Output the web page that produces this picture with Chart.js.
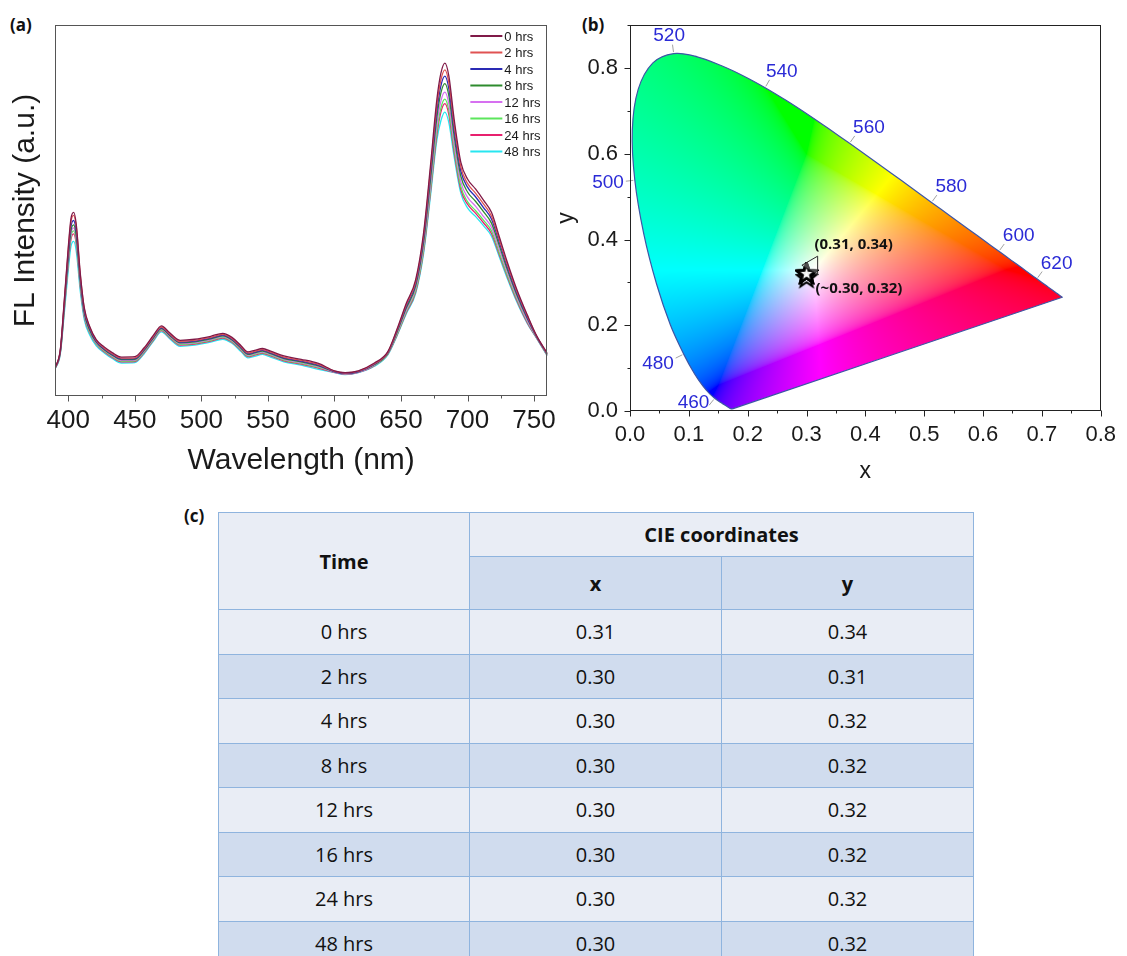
<!DOCTYPE html>
<html lang="en">
<head>
<meta charset="utf-8">
<title>FL spectra and CIE coordinates</title>
<script src="https://cdn.jsdelivr.net/npm/chart.js@4.4.1/dist/chart.umd.min.js"></script>
<style>
  html, body { margin: 0; padding: 0; background: #fff; }
  body { width: 1127px; height: 956px; position: relative; overflow: hidden; font-family: "Open Sans", sans-serif; }
  .tag { position: absolute; font-weight: bold; font-size: 17px; line-height: 17px; color: #111; }
  canvas { position: absolute; }
  #spectra { left: 0; top: 0; width: 565px; height: 480px; }
  #cie { left: 548px; top: 0; width: 579px; height: 492px; }
  #cieTable { position: absolute; left: 218px; top: 512px; width: 755px; border-collapse: collapse; table-layout: fixed;
              font-family: "Open Sans", sans-serif; font-size: 20px; color: #111; }
  #cieTable th, #cieTable td { border: 1.5px solid #8fb4de; text-align: center; padding: 0; }
  #cieTable th { font-weight: bold; }
  #cieTable .light { background: #e9edf5; }
  #cieTable .dark { background: #d0dcee; }
  #cieTable tbody td { height: 43.5px; }
</style>
</head>
<body>
<div class="tag" style="left:10px;top:16px">(a)</div>
<div class="tag" style="left:582px;top:16px">(b)</div>
<div class="tag" style="left:184px;top:507px">(c)</div>

<canvas id="spectra" width="565" height="480"></canvas>
<canvas id="cie" width="579" height="492"></canvas>

<table id="cieTable">
  <colgroup><col style="width:251px"><col style="width:252px"><col style="width:252px"></colgroup>
  <thead>
    <tr style="height:44px"><th class="light" rowspan="2">Time</th><th class="light" colspan="2">CIE coordinates</th></tr>
    <tr style="height:53px"><th class="dark">x</th><th class="dark">y</th></tr>
  </thead>
  <tbody></tbody>
</table>

<script>
// sample times
var timeLabels = ['0 hrs', '2 hrs', '4 hrs', '8 hrs', '12 hrs', '16 hrs', '24 hrs', '48 hrs'];
var seriesColors = ['#801a48', '#e05252', '#2a2ab4', '#2e8b2e', '#d670f0', '#5ce65c', '#e8206e', '#28e6f0'];

// emission spectra, wavelength in nm
var wavelengths = [390, 394, 397, 400, 402, 404, 406, 409, 412, 416, 421, 427, 433, 440, 450, 457, 464, 470, 476, 484,
                   495, 507, 516, 523, 530, 535, 540, 546, 552, 562, 575, 588, 600, 608, 618, 630, 640, 647, 654, 661,
                   667, 672, 677, 680, 683, 686, 690, 695, 700, 706, 712, 718, 724, 730, 737, 745, 752, 760];
var hrs0  = [75,125,259,402,478,495,462,331,238,188,152, 132,117,105,106,130,164,189,171,150,153,161,169,158,135,119,123,128,121,108,99,88, 68,63,68,89,119, 180,250,313,440,615,800,870,897,862,745,630,585,558,528,495,428,360,288,218, 162,115];
var hrs2  = [75,124,255,396,470,487,455,326,235,186,150, 129,114,102,103,127,161,186,168,147,150,158,166,155,132,116,120,125,118,105,96,85, 67,62,67,87,117, 177,246,307,432,603,784,852,879,844,730,617,573,547,518,485,420,353,283,215, 161,114];
var hrs4  = [74,122,249,385,457,473,442,317,229,182,147, 127,112,100,101,125,159,184,166,145,148,156,164,153,130,114,118,123,116,103,94,83, 66,61,66,86,116, 175,242,302,424,592,769,836,862,828,716,606,563,537,508,477,413,347,278,211, 160,113];
var hrs8  = [74,120,243,375,445,461,430,310,224,178,145, 125,110,98,99,123,157,182,164,143,146,154,162,151,128,112,116,121,114,101,92,81, 66,61,66,85,115, 172,237,296,415,578,751,817,842,809,700,592,550,525,497,466,404,340,273,208, 159,112];
var hrs12 = [74,119,240,369,437,453,423,305,221,176,143, 123,108,96,97,121,155,180,162,141,144,152,160,149,126,110,114,119,112,99,90,79, 65,60,65,84,114, 169,232,290,405,563,731,795,819,787,681,577,536,512,484,455,394,332,267,203, 158,111];
var hrs16 = [73,118,236,363,430,445,416,300,218,173,141, 121,106,94,95,119,153,178,160,139,142,150,158,147,124,108,112,117,110,97,88,77, 65,60,65,83,113, 166,228,284,396,551,714,776,800,769,666,564,524,500,474,445,385,325,262,200, 157,110];
var hrs24 = [73,116,233,357,422,437,409,295,214,171,140, 119,104,92,93,117,151,176,158,137,140,148,156,145,122,106,110,115,108,95,86,75, 64,59,64,82,112, 164,225,280,391,543,704,765,788,758,656,556,517,493,467,438,380,321,258,197, 156,109];
var hrs48 = [72,113,223,340,403,417,390,282,206,165,135, 116,101,89,90,114,148,173,155,134,137,145,153,142,119,103,107,112,105,92,83,72, 63,58,63,80,110, 162,222,276,384,533,690,742,765,736,644,546,507,484,459,431,374,316,254,195, 155,108];
var spectra = [hrs0, hrs2, hrs4, hrs8, hrs12, hrs16, hrs24, hrs48];

// CIE 1931 spectral locus
var locusNm = [380,385,390,395,400,405,410,415,420,425,430,435,440,445,450,455,460,465,470,475,480,485,490,495,500,505,510,515,520,525,
               530,535,540,545,550,555,560,565,570,575,580,585,590,595,600,605,610,615,620,625,630,635,640,645,650,655,660,665,670,675,
               680,685,690,695,700];
var locusX = [0.1741,0.1740,0.1738,0.1736,0.1733,0.1730,0.1726,0.1721,0.1714,0.1703,0.1689,0.1669,0.1644,0.1611,0.1566,0.1510,0.1440,0.1355,0.1241,0.1096,
              0.0913,0.0687,0.0454,0.0235,0.0082,0.0039,0.0139,0.0389,0.0743,0.1142,0.1547,0.1929,0.2296,0.2658,0.3016,0.3373,0.3731,0.4087,0.4441,0.4788,
              0.5125,0.5448,0.5752,0.6029,0.6270,0.6482,0.6658,0.6801,0.6915,0.7006,0.7079,0.7140,0.7190,0.7230,0.7260,0.7283,0.7300,0.7311,0.7320,0.7327,
              0.7334,0.7340,0.7344,0.7346,0.7347];
var locusY = [0.0050,0.0050,0.0049,0.0049,0.0048,0.0048,0.0048,0.0048,0.0051,0.0058,0.0069,0.0086,0.0109,0.0138,0.0177,0.0227,0.0297,0.0399,0.0578,0.0868,
              0.1327,0.2007,0.2950,0.4127,0.5384,0.6548,0.7502,0.8120,0.8338,0.8262,0.8059,0.7816,0.7543,0.7243,0.6923,0.6589,0.6245,0.5896,0.5547,0.5202,
              0.4866,0.4544,0.4242,0.3965,0.3725,0.3514,0.3340,0.3197,0.3083,0.2993,0.2920,0.2859,0.2809,0.2770,0.2740,0.2717,0.2700,0.2689,0.2680,0.2673,
              0.2666,0.2660,0.2656,0.2654,0.2653];
var labelNm = [460, 480, 500, 520, 540, 560, 580, 600, 620];

// measured colour coordinates
var cieX = [0.31, 0.30, 0.30, 0.30, 0.30, 0.30, 0.30, 0.30];
var cieY = [0.34, 0.31, 0.32, 0.32, 0.32, 0.32, 0.32, 0.32];

var ARIAL = '"Liberation Sans", Arial, sans-serif';
Chart.defaults.color = '#1a1a1a';

// box + outward ticks (major longer than minor)
var frameTicks = {
  id: 'frameTicks',
  afterDraw: function (chart, args, opts) {
    var ctx = chart.ctx, a = chart.chartArea;
    var L = Math.round(a.left) + 0.5, T = Math.round(a.top) + 0.5, R = Math.round(a.right) - 0.5, B = Math.round(a.bottom) - 0.5;
    ctx.save();
    ctx.strokeStyle = opts.color || '#333';
    ctx.lineWidth = 1;
    ctx.strokeRect(L, T, R - L, B - T);
    ctx.beginPath();
    chart.scales.x.ticks.forEach(function (t) {
      var px = Math.round(chart.scales.x.getPixelForValue(t.value)) + 0.5;
      ctx.moveTo(px, B); ctx.lineTo(px, B + (t.label ? 6 : 3));
    });
    if (opts.yTicks) {
      chart.scales.y.ticks.forEach(function (t) {
        var py = Math.round(chart.scales.y.getPixelForValue(t.value)) + 0.5;
        ctx.moveTo(L, py); ctx.lineTo(L - (t.label ? 6 : 3), py);
      });
    }
    ctx.stroke();
    ctx.restore();
  }
};

// legend with line samples in the upper right corner
var spectraLegend = {
  id: 'spectraLegend',
  afterDraw: function (chart) {
    var ctx = chart.ctx, a = chart.chartArea;
    var x0 = a.right - 77, y0 = a.top + 11;
    ctx.save();
    ctx.font = '13px ' + ARIAL;
    ctx.textBaseline = 'middle';
    chart.data.datasets.forEach(function (ds, i) {
      var yy = y0 + i * 16.5;
      ctx.strokeStyle = ds.borderColor;
      ctx.lineWidth = 1.8;
      ctx.beginPath(); ctx.moveTo(x0, yy); ctx.lineTo(x0 + 32, yy); ctx.stroke();
      ctx.fillStyle = '#1a1a1a';
      ctx.fillText(ds.label, x0 + 34, yy + 1);
    });
    ctx.restore();
  }
};

new Chart(document.getElementById('spectra'), {
  type: 'line',
  data: {
    datasets: spectra.map(function (vals, k) {
      return {
        label: timeLabels[k],
        data: wavelengths.map(function (w, i) { return { x: w, y: vals[i] }; }),
        borderColor: seriesColors[k],
        borderWidth: 1.3,
        pointRadius: 0,
        cubicInterpolationMode: 'monotone',
        fill: false
      };
    })
  },
  options: {
    responsive: false,
    animation: false,
    events: [],
    devicePixelRatio: 1,
    layout: { padding: { left: 0, top: 25, right: 10, bottom: 0 } },
    plugins: { legend: { display: false }, tooltip: { enabled: false }, frameTicks: { color: '#555', yTicks: false } },
    scales: {
      x: {
        type: 'linear', min: 390, max: 760,
        grid: { display: false, drawTicks: false },
        border: { display: false },
        afterBuildTicks: function (s) { var t = []; for (var v = 400; v <= 750; v += 25) t.push({ value: v }); s.ticks = t; },
        ticks: { autoSkip: false, maxRotation: 0, padding: 9, font: { family: ARIAL, size: 26 },
                 callback: function (v) { return v % 50 === 0 ? String(v) : ''; } },
        title: { display: true, text: 'Wavelength (nm)', font: { family: ARIAL, size: 30 }, padding: { top: 0, bottom: 1 } },
        afterFit: function (s) { s.height = 84; }
      },
      y: {
        min: 0, max: 1000,
        grid: { display: false, drawTicks: false },
        border: { display: false },
        ticks: { display: false },
        title: { display: true, text: 'FL Intensity (a.u.)', font: { family: ARIAL, size: 30 }, padding: { top: 8, bottom: 0 } },
        afterFit: function (s) { s.width = 55; }
      }
    }
  },
  plugins: [frameTicks, spectraLegend]
});

// ---------- chromaticity diagram ----------
function gam(c) {
  c = c <= 0.0031308 ? 12.92 * c : 1.055 * Math.pow(c, 1 / 2.4) - 0.055;
  return Math.round(255 * Math.min(1, Math.max(0, c)));
}
// xy -> sRGB; out-of-gamut points are partly pulled toward white, then clipped
function xyToRgb(cx, cy) {
  var yy = Math.max(cy, 1e-4);
  var X = cx / yy, Z = (1 - cx - cy) / yy;
  var r = 3.2406 * X - 1.5372 - 0.4986 * Z;
  var g = -0.9689 * X + 1.8758 + 0.0415 * Z;
  var b = 0.0557 * X - 0.2040 + 1.0570 * Z;
  var lo = Math.min(r, g, b);
  if (lo < 0) { r -= 0.3 * lo; g -= 0.3 * lo; b -= 0.3 * lo; }
  r = Math.max(0, r); g = Math.max(0, g); b = Math.max(0, b);
  var m = Math.max(r, g, b) || 1;
  return [gam(r / m), gam(g / m), gam(b / m)];
}

// colour the inside of the locus
var gamutFill = {
  id: 'gamutFill',
  beforeDatasetsDraw: function (chart) {
    var ctx = chart.ctx, a = chart.chartArea, sx = chart.scales.x, sy = chart.scales.y;
    var x0 = Math.floor(a.left), y0 = Math.floor(a.top);
    var w = Math.ceil(a.right) - x0, h = Math.ceil(a.bottom) - y0;
    var off = document.createElement('canvas');
    off.width = w; off.height = h;
    var octx = off.getContext('2d');
    var img = octx.createImageData(w, h);
    for (var j = 0; j < h; j++) {
      var cy = sy.getValueForPixel(y0 + j + 0.5);
      for (var i = 0; i < w; i++) {
        var c = xyToRgb(sx.getValueForPixel(x0 + i + 0.5), cy);
        var k = (j * w + i) * 4;
        img.data[k] = c[0]; img.data[k + 1] = c[1]; img.data[k + 2] = c[2]; img.data[k + 3] = 255;
      }
    }
    octx.putImageData(img, 0, 0);

    var line = chart.getDatasetMeta(0).dataset;
    ctx.save();
    ctx.beginPath();
    if (line && typeof line.path === 'function') {
      if (line.updateControlPoints) line.updateControlPoints(a, 'x');
      line.path(ctx);
    } else {
      locusX.forEach(function (v, n) { ctx.lineTo(sx.getPixelForValue(v), sy.getPixelForValue(locusY[n])); });
    }
    ctx.closePath();
    ctx.clip();
    ctx.drawImage(off, x0, y0);
    ctx.restore();
  }
};

function clamp1(v) { return Math.max(-1, Math.min(1, v)); }

// wavelength marks along the locus
var locusLabels = {
  id: 'locusLabels',
  afterDatasetsDraw: function (chart) {
    var ctx = chart.ctx, a = chart.chartArea, sx = chart.scales.x, sy = chart.scales.y;
    ctx.save();
    ctx.font = '19px ' + ARIAL;
    ctx.textAlign = 'center';
    ctx.textBaseline = 'middle';
    labelNm.forEach(function (nm) {
      var i = locusNm.indexOf(nm);
      var px = sx.getPixelForValue(locusX[i]), py = sy.getPixelForValue(locusY[i]);
      var tx = sx.getPixelForValue(locusX[i + 1]) - sx.getPixelForValue(locusX[i - 1]);
      var ty = sy.getPixelForValue(locusY[i + 1]) - sy.getPixelForValue(locusY[i - 1]);
      var len = Math.hypot(tx, ty); tx /= len; ty /= len;
      var nx = ty, ny = -tx;
      ctx.strokeStyle = '#8a8a8a';
      ctx.lineWidth = 0.8;
      ctx.beginPath(); ctx.moveTo(px + nx * 1.5, py + ny * 1.5); ctx.lineTo(px + nx * 9, py + ny * 9); ctx.stroke();
      var hw = ctx.measureText(String(nm)).width / 2, hh = 7;
      var ex = px + nx * 11, ey = py + ny * 11;
      var cx = ex + hw * clamp1(nx / 0.7), cy = ey + hh * clamp1(ny / 0.7);
      cy = Math.min(cy, a.bottom - hh - 2);
      ctx.fillStyle = '#2a2ad6';
      ctx.fillText(String(nm), cx, cy + 0.5);
    });
    ctx.restore();
  }
};

// coordinate notes next to the markers
var pointNotes = {
  id: 'pointNotes',
  afterDatasetsDraw: function (chart) {
    var ctx = chart.ctx;
    var tri = chart.getDatasetMeta(1).data[0], star = chart.getDatasetMeta(2).data[1];
    ctx.save();
    ctx.font = 'bold 15px "Open Sans", sans-serif';
    ctx.textBaseline = 'middle';
    ctx.fillStyle = '#111';
    ctx.fillText('(' + cieX[0].toFixed(2) + ', ' + cieY[0].toFixed(2) + ')', tri.x + 2, tri.y - 21);
    ctx.fillText('(~' + cieX[2].toFixed(2) + ', ' + cieY[2].toFixed(2) + ')', star.x + 9, star.y + 15);
    ctx.restore();
  }
};

function makeStar() {
  var c = document.createElement('canvas');
  c.width = 24; c.height = 24;
  var g = c.getContext('2d');
  g.beginPath();
  for (var k = 0; k < 10; k++) {
    var r = k % 2 ? 4.2 : 10, ang = -Math.PI / 2 + k * Math.PI / 5;
    g.lineTo(12 + r * Math.cos(ang), 12 + r * Math.sin(ang));
  }
  g.closePath();
  g.fillStyle = 'rgba(255,255,255,0.35)';
  g.fill();
  g.lineWidth = 2.2;
  g.strokeStyle = '#000';
  g.stroke();
  return c;
}

var locusPts = locusX.map(function (v, i) { return { x: v, y: locusY[i] }; });
locusPts.push({ x: locusX[0], y: locusY[0] });

new Chart(document.getElementById('cie'), {
  type: 'scatter',
  data: {
    datasets: [
      { data: locusPts, showLine: true, borderColor: '#3d56a6', borderWidth: 1.2, pointRadius: 0, tension: 0.35, fill: false },
      { data: [{ x: cieX[0], y: cieY[0] }], pointStyle: 'triangle', rotation: -90, pointRadius: 10.5,
        borderColor: '#2a2a2a', borderWidth: 1, backgroundColor: 'rgba(255,255,255,0.3)' },
      { data: cieX.slice(1).map(function (v, i) { return { x: v, y: cieY[i + 1] }; }), pointStyle: makeStar(), pointRadius: 10 }
    ]
  },
  options: {
    responsive: false,
    animation: false,
    events: [],
    devicePixelRatio: 1,
    layout: { padding: { left: 0, top: 23, right: 20, bottom: 0 } },
    plugins: { legend: { display: false }, tooltip: { enabled: false }, frameTicks: { color: '#222', yTicks: true } },
    scales: {
      x: {
        type: 'linear', min: 0, max: 0.8,
        grid: { display: false, drawTicks: false },
        border: { display: false },
        afterBuildTicks: function (s) { var t = []; for (var n = 0; n <= 16; n++) t.push({ value: n * 0.05 }); s.ticks = t; },
        ticks: { autoSkip: false, maxRotation: 0, padding: 11, font: { family: ARIAL, size: 22 },
                 callback: function (v, i) { return i % 2 === 0 ? v.toFixed(1) : ''; } },
        title: { display: true, text: 'x', font: { family: ARIAL, size: 23 }, padding: { top: 0, bottom: 7 } },
        afterFit: function (s) { s.height = 81; }
      },
      y: {
        min: 0, max: 0.9,
        grid: { display: false, drawTicks: false },
        border: { display: false },
        afterBuildTicks: function (s) { var t = []; for (var n = 0; n <= 9; n++) t.push({ value: n * 0.1 }); s.ticks = t; },
        ticks: { autoSkip: false, padding: 12, font: { family: ARIAL, size: 22 },
                 callback: function (v, i) { return i % 2 === 0 ? v.toFixed(1) : ''; } },
        title: { display: true, text: 'y', font: { family: ARIAL, size: 23 }, padding: { top: 5, bottom: 0 } },
        afterFit: function (s) { s.width = 82; }
      }
    }
  },
  plugins: [gamutFill, frameTicks, locusLabels, pointNotes]
});

// ---------- coordinate table ----------
var tbody = document.querySelector('#cieTable tbody');
timeLabels.forEach(function (t, i) {
  var tr = document.createElement('tr');
  tr.className = i % 2 ? 'dark' : 'light';
  [t, cieX[i].toFixed(2), cieY[i].toFixed(2)].forEach(function (v) {
    var td = document.createElement('td');
    td.textContent = v;
    tr.appendChild(td);
  });
  tbody.appendChild(tr);
});
</script>
</body>
</html>
